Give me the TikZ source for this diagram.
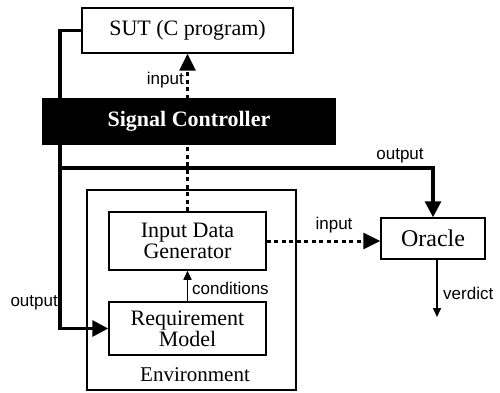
\documentclass[tikz,border=0pt]{standalone}
\usepackage{fontspec}
\setmainfont{Liberation Serif}
\newfontfamily\lblfont{Liberation Sans}
\usetikzlibrary{arrows.meta}

\tikzset{
  blockbox/.style={draw=black, line width=1.5pt, fill=white, inner sep=0pt,
                   align=center, font=\fontsize{22}{24}\selectfont},
  thickflow/.style={line width=3.2pt, -{Triangle[length=16pt,width=16pt]}},
  thickline/.style={line width=3.2pt},
  dotflow/.style={line width=3pt, dash pattern=on 4pt off 3.5pt,
                  -{Triangle[length=17pt,width=16pt]}},
  thinflow/.style={line width=1.5pt, -{Triangle[length=9pt,width=8pt]}},
  lbl/.style={inner sep=0pt, font=\lblfont\fontsize{17}{19}\selectfont}
}

\begin{document}
\begin{tikzpicture}[x=1pt,y=-1pt]
  \useasboundingbox (0,0) rectangle (500,393);

  % environment frame
  \node[draw=black, line width=1.3pt, minimum width=209pt, minimum height=200pt,
        inner sep=0pt] (env) at (191.5,290) {};
  \node[font=\fontsize{21}{23}\selectfont, inner sep=0pt] (envlbl) at (195,375) {Environment};

  % blocks
  \node[blockbox, minimum width=211pt, minimum height=45pt] (sut) at (187.5,30.5) {SUT (C program)};
  \node[blockbox, minimum width=157pt, minimum height=58pt] (idg) at (187.5,241)
       {Input Data\\[-3pt]Generator};
  \node[blockbox, minimum width=157pt, minimum height=53pt] (req) at (187.5,328.5)
       {Requirement\\[-3pt]Model};
  \node[blockbox, minimum width=104pt, minimum height=41pt,
        font=\fontsize{24}{26}\selectfont] (oracle) at (433,238.5) {Oracle};

  % helper points of the output bus
  \coordinate (bend) at (60,30.5);
  \coordinate (split) at (60,168);
  \coordinate (verdictend) at (437,317);

  % output of the SUT fed back to the environment and to the oracle
  \draw[thickline] (sut.west) -- (bend) -- (split);
  \draw[thickflow] (split) |- (req.west);
  \draw[thickflow] (split) -| (oracle.north);

  % generated input
  \draw[dotflow] (idg.north) -- (sut.south);
  \draw[dotflow] (idg.east) -- (idg.east -| oracle.west);

  % conditions and verdict
  \draw[thinflow] (req.north) -- (idg.south);
  \draw[thinflow] ([xshift=4pt]oracle.south) -- (verdictend);

  % signal controller bar drawn over the lines
  \node[fill=black, minimum width=294pt, minimum height=47pt, inner sep=0pt,
        text=white, font=\bfseries\fontsize{22}{24}\selectfont] (sig) at (189,121.5)
       {Signal Controller};

  % connector labels
  \node[lbl, anchor=east] (lin1) at (184,80) {input};
  \node[lbl] (lout1) at (400,156) {output};
  \node[lbl] (lin2) at (334,225) {input};
  \node[lbl, anchor=west] (lcond) at (192,288) {conditions};
  \node[lbl, anchor=west] (lverd) at (443,293) {verdict};
  \node[lbl, anchor=east] (lout2) at (58,303) {output};
\end{tikzpicture}
\end{document}
